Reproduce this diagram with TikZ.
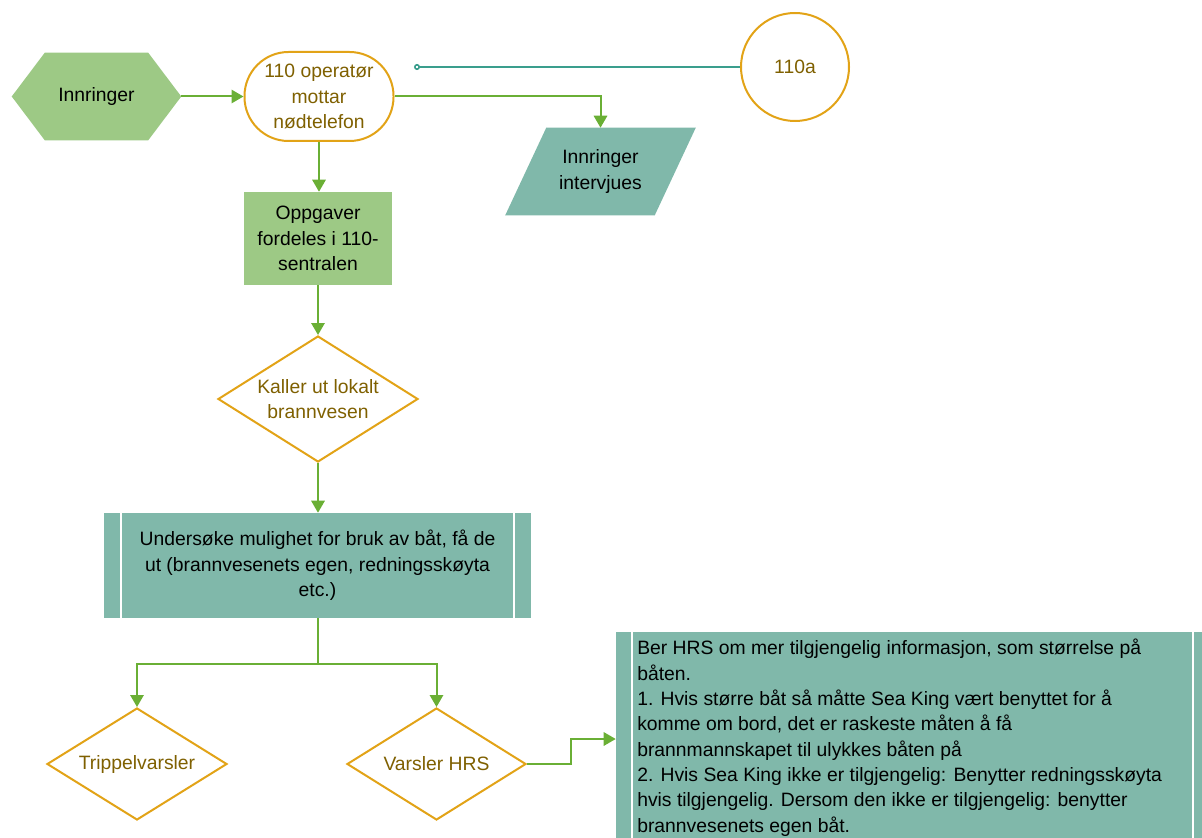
\documentclass[tikz,border=0pt]{standalone}
\usepackage{fontspec}
\setmainfont{Liberation Sans}
\usetikzlibrary{arrows.meta,shapes.geometric,calc,backgrounds}
\definecolor{leaf}{HTML}{9DC985}
\definecolor{sea}{HTML}{80B8AA}
\definecolor{amber}{HTML}{E2A317}
\definecolor{bronze}{HTML}{7F6000}
\definecolor{link}{HTML}{6AAF35}
\definecolor{tealink}{HTML}{3A9E8D}
\begin{document}
\begin{tikzpicture}[x=0.75pt,y=-0.75pt,
  font=\fontsize{14.5}{19}\selectfont,
  every node/.style={inner sep=0pt,align=center},
  flow/.style={draw=link,line width=1.5pt,-{Triangle[width=10pt,length=9pt]}},
  plainflow/.style={draw=link,line width=1.5pt},
  tealflow/.style={draw=tealink,line width=1.5pt,{Circle[open,length=4.5pt,width=4.5pt,line width=1.2pt]}-},
  greenbox/.style={rectangle,fill=leaf,text=black,minimum width=111pt,minimum height=69.75pt},
  terminal/.style={rectangle,draw=amber,line width=1.5pt,fill=white,text=bronze,rounded corners=33pt,minimum width=111.75pt,minimum height=66.75pt},
  decision/.style={diamond,draw=amber,line width=1.5pt,fill=white},
  decisiontext/.style={text=bronze},
  connector/.style={circle,draw=amber,line width=1.5pt,text=bronze,minimum size=81pt},
  predef/.style={rectangle,fill=sea,text=black},
  ghost/.style={rectangle,text=black}]
\clip (0,0) rectangle (1202,838);

% nodes
\node[ghost,minimum width=126.75pt,minimum height=65.25pt] (ring) at (96.5,96.5) {Innringer};
\node[terminal] (term) at (319,96.5) {110 operatør\\mottar\\nødtelefon};
\node[connector] (c110a) at (795,67) {110a};
\node[ghost,minimum width=111.75pt,minimum height=65.25pt] (intv) at (600.5,171.5) {Innringer\\intervjues};
\node[greenbox] (opp) at (318,238.5) {Oppgaver\\fordeles i 110-\\sentralen};
\node[decision,minimum width=150pt,minimum height=94.5pt,
  label={[decisiontext]center:Kaller ut lokalt\\brannvesen}] (kall) at (318,399) {};
\node[predef,minimum width=320.25pt,minimum height=78.75pt] (pre) at (317.5,565.5) {Undersøke mulighet for bruk av båt, få de\\ut (brannvesenets egen, redningsskøyta\\etc.)};
\node[decision,minimum width=135pt,minimum height=84pt,
  label={[decisiontext]center:Trippelvarsler}] (tri) at (137,764) {};
\node[decision,minimum width=134.25pt,minimum height=84pt,
  label={[decisiontext]center:Varsler HRS}] (hrs) at (436.5,764) {};
\node[predef,minimum width=447pt,minimum height=163.5pt] (big) at (914,741) {};
\node[ghost,anchor=north west,align=left] (bigtxt) at (637,639) {Ber HRS om mer tilgjengelig informasjon, som størrelse på\\båten.\\1. Hvis større båt så måtte Sea King vært benyttet for å\\komme om bord, det er raskeste måten å få\\brannmannskapet til ulykkes båten på\\2. Hvis Sea King ikke er tilgjengelig: Benytter redningsskøyta\\hvis tilgjengelig. Dersom den ikke er tilgjengelig: benytter\\brannvesenets egen båt.};

% shape outlines drawn behind their labels
\begin{scope}[on background layer]
  \fill[leaf] (ring.west) -- ($(ring.north west)+(33,0)$) -- ($(ring.north east)+(-33,0)$)
    -- (ring.east) -- ($(ring.south east)+(-33,0)$) -- ($(ring.south west)+(33,0)$) -- cycle;
  \fill[sea] ($(intv.north west)+(20.5,0)$) -- ($(intv.north east)+(20.5,0)$)
    -- ($(intv.south east)+(-20.5,0)$) -- ($(intv.south west)+(-20.5,0)$) -- cycle;
\end{scope}
% inner bars of the predefined-process boxes
\draw[white,line width=1.5pt] ($(pre.north west)+(17,0)$) -- ($(pre.south west)+(17,0)$)
  ($(pre.north east)+(-17,0)$) -- ($(pre.south east)+(-17,0)$);
\draw[white,line width=1.5pt] ($(big.north west)+(16,0)$) -- ($(big.south west)+(16,0)$)
  ($(big.north east)+(-19,0)$) -- ($(big.south east)+(-19,0)$);

% connectors
\coordinate (tap) at (414,67);
\draw[tealflow] (tap) -- (c110a.west);
\draw[flow] (ring.east) -- (term.west);
\draw[flow] (term.east) -| (intv.north);
\draw[flow] (term.south) -- (term.south |- opp.north);
\draw[flow] (opp.south) -- (kall.north);
\draw[flow] (kall.south) -- (kall.south |- pre.north);
\draw[plainflow] (pre.south) -- ++(0,46) coordinate (split);
\draw[flow] (split) -| (tri.north);
\draw[flow] (split) -| (hrs.north);
\draw[flow] (hrs.east) -- ++(44,0) |- (big.west |- 0,739);
\end{tikzpicture}
\end{document}
